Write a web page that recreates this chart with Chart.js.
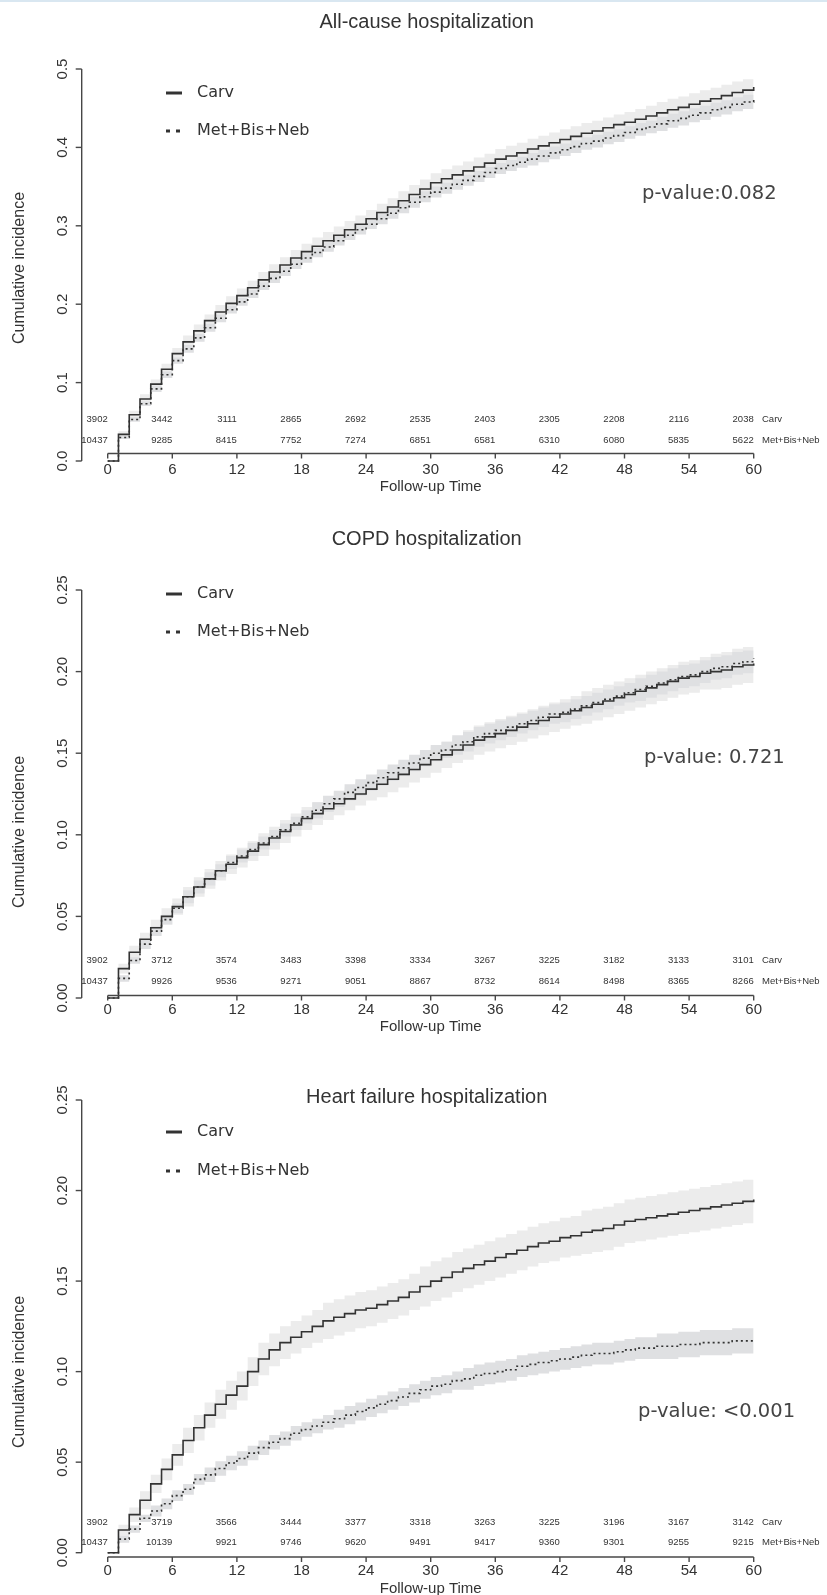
<!DOCTYPE html>
<html>
<head>
<meta charset="utf-8">
<script src="https://cdn.jsdelivr.net/npm/chart.js@4.4.0/dist/chart.umd.min.js"></script>
<style>
  html, body { margin: 0; padding: 0; background: #fff; }
  body { width: 827px; height: 1595px; position: relative; overflow: hidden; }
  .topline { position: absolute; left: 0; top: 0; width: 827px; height: 2px; background: #d9e7f1; }
  canvas { position: absolute; left: 0; }
</style>
</head>
<body>
<div class="topline"></div>
<canvas id="panel1" width="827" height="505" style="top:0px"></canvas>
<canvas id="panel2" width="827" height="535" style="top:505px"></canvas>
<canvas id="panel3" width="827" height="555" style="top:1040px"></canvas>
<script>
// Follow-up months (one step per month)
const months = [
    0, 1, 2, 3, 4, 5, 6, 7, 8, 9, 10, 11, 12, 13, 14, 15, 16, 17, 18, 19, 20,
    21, 22, 23, 24, 25, 26, 27, 28, 29, 30, 31, 32, 33, 34, 35, 36, 37, 38, 39, 40,
    41, 42, 43, 44, 45, 46, 47, 48, 49, 50, 51, 52, 53, 54, 55, 56, 57, 58, 59, 60
];
const xTicks = [0, 6, 12, 18, 24, 30, 36, 42, 48, 54, 60];
const groupNames = ['Carv', 'Met+Bis+Neb'];

// --- All-cause hospitalization ---
const allCauseCarv = [
    0, 0.034, 0.059, 0.079, 0.098, 0.117, 0.137,
    0.152, 0.166, 0.179, 0.190, 0.201, 0.211,
    0.221, 0.231, 0.241, 0.250, 0.259, 0.267,
    0.274, 0.281, 0.288, 0.295, 0.302, 0.309,
    0.317, 0.324, 0.332, 0.340, 0.347, 0.355,
    0.360, 0.365, 0.370, 0.375, 0.380, 0.385,
    0.389, 0.393, 0.398, 0.402, 0.406, 0.410,
    0.414, 0.418, 0.421, 0.425, 0.429, 0.432,
    0.436, 0.440, 0.444, 0.448, 0.451, 0.455,
    0.459, 0.462, 0.466, 0.470, 0.473, 0.477
];
const allCauseCarvCi = [
    0, 0.004, 0.005, 0.006, 0.006, 0.007, 0.007,
    0.008, 0.008, 0.008, 0.009, 0.009, 0.009,
    0.009, 0.010, 0.010, 0.010, 0.010, 0.010,
    0.011, 0.011, 0.011, 0.011, 0.011, 0.011,
    0.011, 0.011, 0.012, 0.012, 0.012, 0.012,
    0.012, 0.012, 0.012, 0.012, 0.012, 0.013,
    0.013, 0.013, 0.013, 0.013, 0.013, 0.013,
    0.013, 0.013, 0.013, 0.013, 0.013, 0.013,
    0.013, 0.013, 0.014, 0.014, 0.014, 0.014,
    0.014, 0.014, 0.014, 0.014, 0.014, 0.014
];
const allCauseMet = [
    0, 0.030, 0.053, 0.073, 0.092, 0.110, 0.128,
    0.143, 0.157, 0.170, 0.182, 0.193, 0.203,
    0.213, 0.223, 0.233, 0.242, 0.251, 0.259,
    0.266, 0.273, 0.281, 0.288, 0.295, 0.302,
    0.309, 0.316, 0.323, 0.330, 0.337, 0.343,
    0.348, 0.353, 0.358, 0.363, 0.368, 0.373,
    0.377, 0.381, 0.385, 0.389, 0.393, 0.397,
    0.401, 0.405, 0.408, 0.412, 0.415, 0.419,
    0.423, 0.426, 0.430, 0.434, 0.437, 0.441,
    0.444, 0.448, 0.451, 0.455, 0.458, 0.462
];
const allCauseMetCi = [
    0, 0.002, 0.003, 0.003, 0.004, 0.004, 0.004,
    0.005, 0.005, 0.005, 0.005, 0.005, 0.005,
    0.005, 0.005, 0.006, 0.006, 0.006, 0.006,
    0.006, 0.006, 0.006, 0.006, 0.006, 0.006,
    0.007, 0.007, 0.007, 0.007, 0.007, 0.007,
    0.007, 0.007, 0.007, 0.007, 0.007, 0.007,
    0.007, 0.007, 0.008, 0.008, 0.008, 0.008,
    0.008, 0.008, 0.008, 0.008, 0.008, 0.008,
    0.008, 0.008, 0.009, 0.009, 0.009, 0.009,
    0.009, 0.009, 0.009, 0.009, 0.009, 0.009
];
const allCauseRiskCarv = [3902, 3442, 3111, 2865, 2692, 2535, 2403, 2305, 2208, 2116, 2038];
const allCauseRiskMet = [10437, 9285, 8415, 7752, 7274, 6851, 6581, 6310, 6080, 5835, 5622];
const allCauseYTicks = [0, 0.1, 0.2, 0.3, 0.4, 0.5];
const allCauseYLabels = ['0.0', '0.1', '0.2', '0.3', '0.4', '0.5'];

// --- COPD hospitalization ---
const copdCarv = [
    0, 0.018, 0.028, 0.036, 0.043, 0.050, 0.056,
    0.062, 0.068, 0.073, 0.078, 0.082, 0.086,
    0.090, 0.094, 0.098, 0.102, 0.106, 0.110,
    0.113, 0.116, 0.119, 0.122, 0.125, 0.128,
    0.131, 0.134, 0.137, 0.140, 0.143, 0.146,
    0.149, 0.152, 0.155, 0.158, 0.160, 0.162,
    0.164, 0.166, 0.168, 0.170, 0.172, 0.174,
    0.176, 0.178, 0.180, 0.182, 0.184, 0.186,
    0.188, 0.190, 0.192, 0.194, 0.196, 0.197,
    0.199, 0.200, 0.201, 0.203, 0.204, 0.205
];
const copdCarvCi = [
    0, 0.003, 0.004, 0.004, 0.005, 0.005, 0.005,
    0.006, 0.006, 0.006, 0.006, 0.006, 0.006,
    0.006, 0.007, 0.007, 0.007, 0.007, 0.007,
    0.007, 0.007, 0.007, 0.007, 0.007, 0.007,
    0.008, 0.008, 0.008, 0.008, 0.008, 0.008,
    0.008, 0.008, 0.009, 0.009, 0.009, 0.009,
    0.009, 0.009, 0.009, 0.009, 0.009, 0.009,
    0.009, 0.010, 0.010, 0.010, 0.010, 0.010,
    0.010, 0.010, 0.010, 0.010, 0.010, 0.010,
    0.010, 0.011, 0.011, 0.011, 0.011, 0.011
];
const copdMet = [
    0, 0.012, 0.023, 0.033, 0.041, 0.048, 0.055,
    0.062, 0.068, 0.073, 0.078, 0.083, 0.087,
    0.091, 0.095, 0.099, 0.103, 0.107, 0.111,
    0.115, 0.119, 0.122, 0.126, 0.129, 0.132,
    0.135, 0.138, 0.141, 0.144, 0.147, 0.150,
    0.152, 0.155, 0.157, 0.160, 0.162, 0.164,
    0.166, 0.168, 0.170, 0.172, 0.174, 0.175,
    0.177, 0.179, 0.181, 0.183, 0.185, 0.187,
    0.189, 0.191, 0.193, 0.195, 0.197, 0.198,
    0.200, 0.202, 0.203, 0.205, 0.206, 0.208
];
const copdMetCi = [
    0, 0.002, 0.002, 0.003, 0.003, 0.003, 0.003,
    0.004, 0.004, 0.004, 0.004, 0.004, 0.004,
    0.004, 0.004, 0.004, 0.004, 0.004, 0.004,
    0.005, 0.005, 0.005, 0.005, 0.005, 0.005,
    0.005, 0.005, 0.005, 0.005, 0.005, 0.005,
    0.005, 0.006, 0.006, 0.006, 0.006, 0.006,
    0.006, 0.006, 0.006, 0.006, 0.006, 0.006,
    0.006, 0.006, 0.006, 0.006, 0.006, 0.006,
    0.007, 0.007, 0.007, 0.007, 0.007, 0.007,
    0.007, 0.007, 0.007, 0.007, 0.007, 0.007
];
const copdRiskCarv = [3902, 3712, 3574, 3483, 3398, 3334, 3267, 3225, 3182, 3133, 3101];
const copdRiskMet = [10437, 9926, 9536, 9271, 9051, 8867, 8732, 8614, 8498, 8365, 8266];
const smallYTicks = [0, 0.05, 0.10, 0.15, 0.20, 0.25];
const smallYLabels = ['0.00', '0.05', '0.10', '0.15', '0.20', '0.25'];

// --- Heart failure hospitalization ---
const hfCarv = [
    0, 0.0125, 0.021, 0.029, 0.038, 0.046, 0.054,
    0.062, 0.069, 0.076, 0.082, 0.087, 0.092,
    0.100, 0.107, 0.112, 0.116, 0.119, 0.122,
    0.125, 0.128, 0.130, 0.132, 0.134, 0.135,
    0.137, 0.139, 0.141, 0.144, 0.147, 0.150,
    0.152, 0.155, 0.157, 0.159, 0.161, 0.163,
    0.165, 0.167, 0.169, 0.171, 0.172, 0.174,
    0.175, 0.177, 0.178, 0.179, 0.181, 0.183,
    0.184, 0.185, 0.186, 0.187, 0.188, 0.189,
    0.190, 0.191, 0.192, 0.193, 0.194, 0.195
];
const hfCarvCi = [
    0, 0.003, 0.004, 0.005, 0.005, 0.006, 0.006,
    0.007, 0.007, 0.007, 0.008, 0.008, 0.008,
    0.008, 0.009, 0.009, 0.009, 0.009, 0.009,
    0.009, 0.010, 0.010, 0.010, 0.010, 0.010,
    0.010, 0.010, 0.010, 0.010, 0.011, 0.011,
    0.011, 0.011, 0.011, 0.011, 0.011, 0.011,
    0.011, 0.011, 0.011, 0.011, 0.011, 0.011,
    0.011, 0.012, 0.012, 0.012, 0.012, 0.012,
    0.012, 0.012, 0.012, 0.012, 0.012, 0.012,
    0.012, 0.012, 0.012, 0.012, 0.012, 0.012
];
const hfMet = [
    0, 0.0075, 0.013, 0.019, 0.023, 0.027, 0.0315,
    0.035, 0.0405, 0.043, 0.0465, 0.0495, 0.052,
    0.055, 0.058, 0.061, 0.063, 0.066, 0.068,
    0.070, 0.072, 0.074, 0.076, 0.078, 0.080,
    0.082, 0.084, 0.086, 0.088, 0.090, 0.092,
    0.093, 0.095, 0.096, 0.098, 0.099, 0.100,
    0.101, 0.103, 0.104, 0.105, 0.106, 0.107,
    0.108, 0.109, 0.110, 0.110, 0.111, 0.112,
    0.113, 0.113, 0.114, 0.114, 0.115, 0.115,
    0.116, 0.116, 0.116, 0.117, 0.117, 0.117
];
const hfMetCi = [
    0, 0.002, 0.002, 0.002, 0.003, 0.003, 0.003,
    0.003, 0.003, 0.004, 0.004, 0.004, 0.004,
    0.004, 0.004, 0.004, 0.004, 0.004, 0.004,
    0.004, 0.004, 0.005, 0.005, 0.005, 0.005,
    0.005, 0.005, 0.005, 0.005, 0.005, 0.005,
    0.005, 0.005, 0.006, 0.006, 0.006, 0.006,
    0.006, 0.006, 0.006, 0.006, 0.006, 0.006,
    0.006, 0.006, 0.006, 0.006, 0.006, 0.006,
    0.006, 0.006, 0.007, 0.007, 0.007, 0.007,
    0.007, 0.007, 0.007, 0.007, 0.007, 0.007
];
const hfRiskCarv = [3902, 3719, 3566, 3444, 3377, 3318, 3263, 3225, 3196, 3167, 3142];
const hfRiskMet = [10437, 10139, 9921, 9746, 9620, 9491, 9417, 9360, 9301, 9255, 9215];

// Fonts
const LABEL_FONT = '"Liberation Sans", Arial, sans-serif';
const LEGEND_FONT = '"DejaVu Sans", Verdana, sans-serif';
const INK = '#333';
const AXIS = '#474747';

// Layout of each panel, in page pixels
const PLOT_LEFT = 107.7;
const PLOT_RIGHT = 753.7;
const Y_AXIS_X = 81.7;

const panels = [
    {
        canvasId: 'panel1', canvasTop: 0, canvasHeight: 505,
        title: 'All-cause hospitalization', titleY: 22,
        yMax: 0.5, yTicks: allCauseYTicks, yLabels: allCauseYLabels,
        plotTop: 69, plotBottom: 461, axisY: 453.5, xLabelY: 470, xTitleY: 487, yTitleY: 268,
        riskY: [419, 440], legendY: [93, 131],
        pValue: 'p-value:0.082', pX: 642, pY: 194,
        carv: allCauseCarv, carvCi: allCauseCarvCi, met: allCauseMet, metCi: allCauseMetCi,
        riskCarv: allCauseRiskCarv, riskMet: allCauseRiskMet
    },
    {
        canvasId: 'panel2', canvasTop: 505, canvasHeight: 535,
        title: 'COPD hospitalization', titleY: 539,
        yMax: 0.25, yTicks: smallYTicks, yLabels: smallYLabels,
        plotTop: 590, plotBottom: 998, axisY: 995.5, xLabelY: 1010, xTitleY: 1027, yTitleY: 832,
        riskY: [960, 981], legendY: [594, 632],
        pValue: 'p-value: 0.721', pX: 644, pY: 758,
        carv: copdCarv, carvCi: copdCarvCi, met: copdMet, metCi: copdMetCi,
        riskCarv: copdRiskCarv, riskMet: copdRiskMet
    },
    {
        canvasId: 'panel3', canvasTop: 1040, canvasHeight: 555,
        title: 'Heart failure hospitalization', titleY: 1097,
        yMax: 0.25, yTicks: smallYTicks, yLabels: smallYLabels,
        plotTop: 1100, plotBottom: 1552.7, axisY: 1557, xLabelY: 1571, xTitleY: 1589, yTitleY: 1372,
        riskY: [1522, 1542], legendY: [1132, 1171],
        pValue: 'p-value: <0.001', pX: 638, pY: 1412,
        carv: hfCarv, carvCi: hfCarvCi, met: hfMet, metCi: hfMetCi,
        riskCarv: hfRiskCarv, riskMet: hfRiskMet
    }
];

// Step points, optionally shifted by the CI half width
function stepPoints(values, ci, sign) {
    return months.map((m, i) => ({ x: m, y: values[i] + (ci ? sign * ci[i] : 0) }));
}

// Axes, titles, numbers at risk, legend and p-value (R-style base plot)
function decorPlugin(p) {
    return {
        id: 'decor',
        afterDraw(chart) {
            const ctx = chart.ctx;
            const xs = chart.scales.x;
            const ys = chart.scales.y;
            const off = p.canvasTop;
            const cx = (xs.getPixelForValue(0) + xs.getPixelForValue(60)) / 2;
            ctx.save();
            ctx.fillStyle = INK;
            ctx.strokeStyle = AXIS;
            ctx.lineWidth = 1.4;

            // Title
            ctx.font = '20px ' + LABEL_FONT;
            ctx.textAlign = 'center';
            ctx.textBaseline = 'middle';
            ctx.fillText(p.title, cx - 4, p.titleY - off);

            // Y axis
            const yTop = ys.getPixelForValue(p.yMax);
            const yBot = ys.getPixelForValue(0);
            ctx.beginPath();
            ctx.moveTo(Y_AXIS_X, yTop);
            ctx.lineTo(Y_AXIS_X, yBot);
            ctx.stroke();
            p.yTicks.forEach((v, i) => {
                const py = ys.getPixelForValue(v);
                ctx.beginPath();
                ctx.moveTo(Y_AXIS_X - 6, py);
                ctx.lineTo(Y_AXIS_X, py);
                ctx.stroke();
                ctx.save();
                ctx.translate(Y_AXIS_X - 19, py);
                ctx.rotate(-Math.PI / 2);
                ctx.font = '15px ' + LABEL_FONT;
                ctx.fillText(p.yLabels[i], 0, 0);
                ctx.restore();
            });
            ctx.save();
            ctx.translate(20, p.yTitleY - off);
            ctx.rotate(-Math.PI / 2);
            ctx.font = '16px ' + LABEL_FONT;
            ctx.fillText('Cumulative incidence', 0, 0);
            ctx.restore();

            // X axis
            const ay = p.axisY - off;
            ctx.beginPath();
            ctx.moveTo(xs.getPixelForValue(0), ay);
            ctx.lineTo(xs.getPixelForValue(60), ay);
            ctx.stroke();
            ctx.font = '15px ' + LABEL_FONT;
            xTicks.forEach(t => {
                const px = xs.getPixelForValue(t);
                ctx.beginPath();
                ctx.moveTo(px, ay);
                ctx.lineTo(px, ay + 5);
                ctx.stroke();
                ctx.fillText(String(t), px, p.xLabelY - off);
            });
            ctx.fillText('Follow-up Time', cx, p.xTitleY - off);

            // Numbers at risk
            ctx.font = '9.5px ' + LABEL_FONT;
            ctx.textAlign = 'right';
            xTicks.forEach((t, i) => {
                const px = xs.getPixelForValue(t);
                ctx.fillText(String(p.riskCarv[i]), px, p.riskY[0] - off);
                ctx.fillText(String(p.riskMet[i]), px, p.riskY[1] - off);
            });
            ctx.textAlign = 'left';
            ctx.fillText(groupNames[0], 762, p.riskY[0] - off);
            ctx.fillText(groupNames[1], 762, p.riskY[1] - off);

            // Legend
            ctx.strokeStyle = INK;
            ctx.lineWidth = 3;
            ctx.beginPath();
            ctx.moveTo(166, p.legendY[0] - off);
            ctx.lineTo(182, p.legendY[0] - off);
            ctx.stroke();
            ctx.setLineDash([4, 6]);
            ctx.beginPath();
            ctx.moveTo(166, p.legendY[1] - off);
            ctx.lineTo(182, p.legendY[1] - off);
            ctx.stroke();
            ctx.setLineDash([]);
            ctx.font = '16px ' + LEGEND_FONT;
            ctx.fillText(groupNames[0], 197, p.legendY[0] - off);
            ctx.fillText(groupNames[1], 197, p.legendY[1] - off);

            // p-value
            ctx.fillStyle = '#444';
            ctx.font = '19.5px ' + LEGEND_FONT;
            ctx.fillText(p.pValue, p.pX, p.pY - off);
            ctx.restore();
        }
    };
}

function createPanel(p) {
    const canvas = document.getElementById(p.canvasId);
    const ctx = canvas.getContext('2d');
    const common = { pointRadius: 0, stepped: 'before', clip: false, tension: 0 };

    const datasets = [
        // Carv confidence band
        { ...common, data: stepPoints(p.carv, p.carvCi, -1), borderWidth: 0, fill: false, order: 3 },
        { ...common, data: stepPoints(p.carv, p.carvCi, 1), borderWidth: 0, fill: '-1',
          backgroundColor: '#ececec', order: 3 },
        // Met+Bis+Neb confidence band
        { ...common, data: stepPoints(p.met, p.metCi, -1), borderWidth: 0, fill: false, order: 2 },
        { ...common, data: stepPoints(p.met, p.metCi, 1), borderWidth: 0, fill: '-1',
          backgroundColor: '#dfe0e2', order: 2 },
        // Curves
        { ...common, label: groupNames[0], data: stepPoints(p.carv), borderColor: '#333',
          borderWidth: 1.6, fill: false, order: 1 },
        { ...common, label: groupNames[1], data: stepPoints(p.met), borderColor: '#333',
          borderWidth: 1.6, borderDash: [2, 3], fill: false, order: 0 }
    ];

    return new Chart(ctx, {
        type: 'line',
        data: { datasets: datasets },
        options: {
            responsive: false,
            animation: false,
            devicePixelRatio: 1,
            layout: {
                padding: {
                    left: PLOT_LEFT,
                    right: 827 - PLOT_RIGHT,
                    top: p.plotTop - p.canvasTop,
                    bottom: p.canvasTop + p.canvasHeight - p.plotBottom
                }
            },
            plugins: {
                legend: { display: false },
                tooltip: { enabled: false }
            },
            scales: {
                x: { type: 'linear', min: 0, max: 60, display: false },
                y: { type: 'linear', min: 0, max: p.yMax, display: false }
            }
        },
        plugins: [decorPlugin(p)]
    });
}

panels.forEach(createPanel);
</script>
</body>
</html>
